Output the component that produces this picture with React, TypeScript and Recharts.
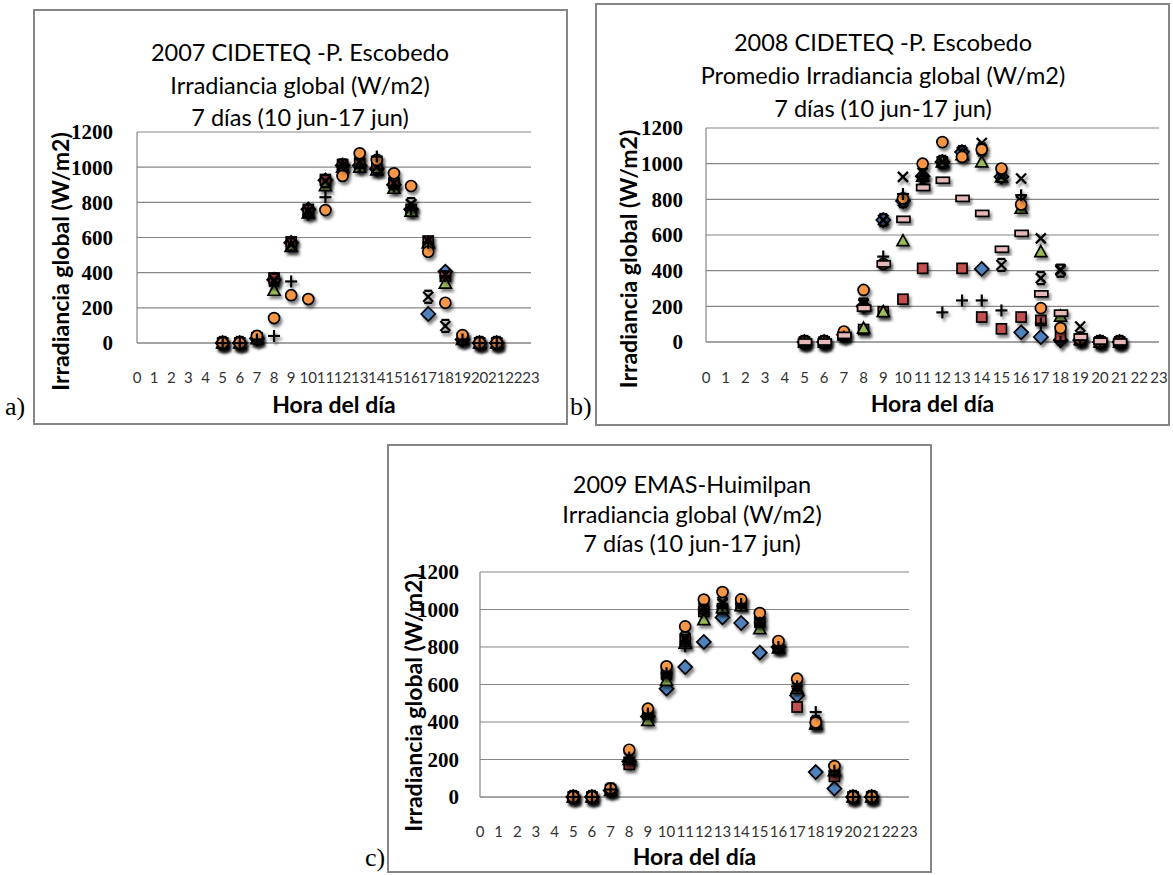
import React from "react";
import { ScatterChart, Scatter, XAxis, YAxis, CartesianGrid, Label } from "recharts";

// horas con dato (eje x) y etiquetas de los ejes
const horas = [5, 6, 7, 8, 9, 10, 11, 12, 13, 14, 15, 16, 17, 18, 19, 20, 21];
const ticksHora = [0, 1, 2, 3, 4, 5, 6, 7, 8, 9, 10, 11, 12, 13, 14, 15, 16, 17, 18, 19, 20, 21, 22, 23];
const ticksIrr = [0, 200, 400, 600, 800, 1000, 1200];

// a) 2007 CIDETEQ
const a_rombo = [0, 0, 25, 360, 570, 760, 925, 1010, 1010, 990, 900, 760, 165, 406, 20, 0, 0];
const a_cuadro = [0, 0, 30, 370, 575, 760, 930, 1015, 1020, 990, 910, 760, 580, 380, 25, 0, 0];
const a_triangulo = [0, 0, 25, 300, 550, 740, 895, 1000, 1000, 985, 880, 750, 570, 340, 20, 0, 0];
const a_equis = [0, 0, 30, 350, 560, 750, 920, 1010, 1030, 1000, 910, 790, 580, 390, 25, 0, 0];
const a_estrella = [0, 0, 30, 360, 560, 750, 920, 1010, 1030, 1000, 910, 790, 263, 97, 25, 0, 0];
const a_circulo = [0, 0, 40, 142, 272, 250, 756, 950, 1079, 1041, 965, 893, 519, 229, 45, 0, 0];
const a_cruz = [0, 0, 20, 40, 350, 730, 829, 1010, 1000, 1060, 890, 760, 570, 380, 20, 0, 0];

// b) 2008 CIDETEQ
const b_rombo = [0, 0, 40, 200, 684, 790, 930, 1010, 1065, 410, 926, 54, 28, 10, 10, 0, 0];
const b_cuadro = [0, 0, 40, 70, 170, 240, 413, 1010, 413, 140, 74, 140, 121, 34, 10, 0, 0];
const b_triangulo = [0, 0, 40, 78, 171, 568, 930, 1010, 1050, 1010, 926, 750, 507, 145, 15, 0, 0];
const b_equis = [0, 0, 40, 218, 684, 926, 898, 1010, 1065, 1116, 926, 917, 581, 408, 87, 0, 0];
const b_estrella = [0, 0, 40, 210, 684, 790, 950, 1010, 1065, 1080, 432, 790, 358, 400, 20, 0, 0];
const b_circulo = [0, 0, 59, 292, 438, 805, 1000, 1121, 1038, 1079, 973, 771, 190, 78, 15, 0, 0];
const b_cruz = [0, 0, 30, 200, 479, 830, 930, 166, 233, 233, 177, 823, 103, 0, 15, 0, 0];
const b_guion = [0, 0, 37, 190, 438, 688, 866, 907, 805, 721, 520, 609, 270, 162, 28, 5, 0];

// c) 2009 EMAS-Huimilpan
const c_rombo = [0, 0, 35, 190, 430, 578, 693, 827, 958, 928, 770, 800, 542, 133, 45, 0, 0];
const c_cuadro = [0, 0, 40, 174, 440, 660, 840, 990, 1005, 1030, 933, 800, 480, 390, 110, 0, 0];
const c_triangulo = [0, 0, 35, 200, 409, 622, 820, 946, 1010, 1020, 898, 795, 580, 390, 140, 0, 0];
const c_equis = [0, 0, 40, 210, 440, 650, 836, 1005, 1030, 1030, 930, 800, 586, 400, 150, 0, 0];
const c_estrella = [0, 0, 40, 215, 450, 670, 850, 1010, 1040, 1040, 940, 805, 600, 400, 150, 0, 0];
const c_circulo = [0, 0, 45, 252, 471, 697, 910, 1053, 1093, 1054, 981, 832, 631, 397, 165, 0, 0];
const c_cruz = [0, 0, 40, 210, 445, 660, 804, 1000, 1020, 1030, 930, 800, 590, 453, 140, 0, 0];

const marcas = [
  { tipo: "rombo", color: "#4F81BD" },
  { tipo: "cuadro", color: "#C0504D" },
  { tipo: "triangulo", color: "#9BBB59" },
  { tipo: "equis", color: "#8064A2" },
  { tipo: "estrella", color: "#4BACC6" },
  { tipo: "circulo", color: "#F79646" },
  { tipo: "cruz", color: "#000000" },
  { tipo: "guion", color: "#E6B9B8" },
];

const GRIS = "#868686";

function Marcador({ cx, cy, tipo, color }: any) {
  if (cx == null || cy == null) return null;
  const sombra = "url(#sombra)";
  switch (tipo) {
    case "rombo":
      return (
        <polygon
          points={`${cx},${cy - 7} ${cx + 7},${cy} ${cx},${cy + 7} ${cx - 7},${cy}`}
          fill={color} stroke="#000" strokeWidth={1.7} filter={sombra}
        />
      );
    case "cuadro":
      return <rect x={cx - 5} y={cy - 5} width={10} height={10} fill={color} stroke="#000" strokeWidth={1.7} filter={sombra} />;
    case "triangulo":
      return (
        <polygon
          points={`${cx},${cy - 6} ${cx + 6},${cy + 5} ${cx - 6},${cy + 5}`}
          fill={color} stroke="#000" strokeWidth={1.7} filter={sombra}
        />
      );
    case "equis":
      return (
        <g stroke="#000" strokeWidth={2.3} filter={sombra}>
          <line x1={cx - 5} y1={cy - 5} x2={cx + 5} y2={cy + 5} />
          <line x1={cx - 5} y1={cy + 5} x2={cx + 5} y2={cy - 5} />
        </g>
      );
    case "estrella":
      return (
        <g stroke="#000" strokeWidth={2.3} filter={sombra}>
          <line x1={cx - 5} y1={cy - 5} x2={cx + 5} y2={cy + 5} />
          <line x1={cx - 5} y1={cy + 5} x2={cx + 5} y2={cy - 5} />
          <line x1={cx - 4} y1={cy - 6} x2={cx + 4} y2={cy - 6} />
          <line x1={cx - 4} y1={cy + 6} x2={cx + 4} y2={cy + 6} />
        </g>
      );
    case "circulo":
      return <circle cx={cx} cy={cy} r={5.5} fill={color} stroke="#000" strokeWidth={1.7} filter={sombra} />;
    case "cruz":
      return (
        <g stroke="#000" strokeWidth={2.2} filter={sombra}>
          <line x1={cx - 6} y1={cy} x2={cx + 6} y2={cy} />
          <line x1={cx} y1={cy - 6} x2={cx} y2={cy + 6} />
        </g>
      );
    default:
      return <rect x={cx - 6} y={cy - 3} width={13} height={6} fill={color} stroke="#000" strokeWidth={1.7} filter={sombra} />;
  }
}

type Panel = {
  letra: string;
  letraPos: { left: number; top: number };
  titulo: string[];
  tituloPos: { centro: number; top: number; alto: number };
  series: number[][];
  caja: { left: number; top: number; width: number; height: number };
  margenDer: number;
  margenSup: number;
  anchoY: number;
  altoX: number;
  sepY: number;
  sepX: number;
  tituloYx: number;
  tituloYdy: number;
  tituloXoff: number;
};

const paneles: Panel[] = [
  {
    letra: "a)",
    letraPos: { left: 5, top: 392 },
    titulo: ["2007 CIDETEQ -P. Escobedo", "Irradiancia global (W/m2)", "7 días (10 jun-17 jun)"],
    tituloPos: { centro: 300, top: 36, alto: 32.5 },
    series: [a_rombo, a_cuadro, a_triangulo, a_equis, a_estrella, a_circulo, a_cruz],
    caja: { left: 33, top: 9, width: 535, height: 416 },
    margenDer: 37,
    margenSup: 123,
    anchoY: 104,
    altoX: 82,
    sepY: 24,
    sepX: 29,
    tituloYx: 27,
    tituloYdy: 24,
    tituloXoff: 12,
  },
  {
    letra: "b)",
    letraPos: { left: 570, top: 392 },
    titulo: ["2008 CIDETEQ -P. Escobedo", "Promedio Irradiancia global (W/m2)", "7 días (10 jun-17 jun)"],
    tituloPos: { centro: 883, top: 26, alto: 33 },
    series: [b_rombo, b_cuadro, b_triangulo, b_equis, b_estrella, b_circulo, b_cruz, b_guion],
    caja: { left: 595, top: 3, width: 575, height: 423 },
    margenDer: 11,
    margenSup: 125,
    anchoY: 111,
    altoX: 84,
    sepY: 23,
    sepX: 30,
    tituloYx: 33,
    tituloYdy: 24,
    tituloXoff: 14,
  },
  {
    letra: "c)",
    letraPos: { left: 365, top: 843 },
    titulo: ["2009 EMAS-Huimilpan", "Irradiancia global (W/m2)", "7 días (10 jun-17 jun)"],
    tituloPos: { centro: 692, top: 470, alto: 29.5 },
    series: [c_rombo, c_cuadro, c_triangulo, c_equis, c_estrella, c_circulo, c_cruz],
    caja: { left: 387, top: 444, width: 545, height: 429 },
    margenDer: 23,
    margenSup: 128,
    anchoY: 93,
    altoX: 76,
    sepY: 21,
    sepX: 29,
    tituloYx: 26,
    tituloYdy: 18,
    tituloXoff: 8,
  },
];

function Grafica({ p }: { p: Panel }) {
  const { caja } = p;
  return (
    <>
      <div
        style={{
          position: "absolute",
          left: caja.left,
          top: caja.top,
          width: caja.width,
          height: caja.height,
          border: `2px solid ${GRIS}`,
          boxSizing: "border-box",
        }}
      />
      <div style={{ position: "absolute", left: caja.left, top: caja.top }}>
        <ScatterChart
          width={caja.width}
          height={caja.height}
          margin={{ top: p.margenSup, right: p.margenDer, bottom: 0, left: 0 }}
        >
          <CartesianGrid vertical={false} stroke={GRIS} strokeWidth={1.2} />
          <XAxis
            type="number"
            dataKey="hora"
            domain={[0, 23]}
            ticks={ticksHora}
            interval={0}
            height={p.altoX}
            tickLine={false}
            tickSize={0}
            tickMargin={p.sepX}
            axisLine={{ stroke: GRIS, strokeWidth: 1.2 }}
            tick={{ fontFamily: "Lato", fontSize: 15, fill: "#333" }}
          >
            <Label
              value="Hora del día"
              position="insideBottom"
              offset={p.tituloXoff}
              fontFamily="Lato"
              fontWeight="bold"
              fontSize={23}
              fill="#000"
            />
          </XAxis>
          <YAxis
            type="number"
            dataKey="valor"
            domain={[0, 1200]}
            ticks={ticksIrr}
            interval={0}
            width={p.anchoY}
            tickLine={false}
            tickSize={0}
            tickMargin={p.sepY}
            axisLine={{ stroke: GRIS, strokeWidth: 1.2 }}
            tick={{ fontFamily: "Liberation Serif", fontWeight: "bold", fontSize: 21, fill: "#000" }}
          >
            <Label
              content={(props: any) => {
                const vb = props.viewBox || { x: 0, y: 0, height: 0 };
                const x = vb.x + p.tituloYx;
                const y = vb.y + vb.height / 2 + p.tituloYdy;
                return (
                  <text
                    x={x}
                    y={y}
                    transform={`rotate(-90 ${x} ${y})`}
                    textAnchor="middle"
                    dominantBaseline="central"
                    fontFamily="Lato"
                    fontWeight="bold"
                    fontSize={23}
                    fill="#000"
                  >
                    Irradiancia global (W/m2)
                  </text>
                );
              }}
            />
          </YAxis>
          {p.series.map((vals, k) => (
            <Scatter
              key={marcas[k].tipo}
              data={horas.map((h, i) => ({ hora: h, valor: vals[i] }))}
              isAnimationActive={false}
              shape={(props: any) => <Marcador {...props} tipo={marcas[k].tipo} color={marcas[k].color} />}
            />
          ))}
        </ScatterChart>
      </div>
      <div
        style={{
          position: "absolute",
          left: p.tituloPos.centro - 260,
          top: p.tituloPos.top,
          width: 520,
          textAlign: "center",
          fontFamily: "Lato",
          fontSize: 23.5,
          lineHeight: `${p.tituloPos.alto}px`,
          color: "#000",
        }}
      >
        {p.titulo.map((t) => (
          <div key={t}>{t}</div>
        ))}
      </div>
      <div
        style={{
          position: "absolute",
          left: p.letraPos.left,
          top: p.letraPos.top,
          fontFamily: "Liberation Serif",
          fontSize: 26,
          color: "#000",
        }}
      >
        {p.letra}
      </div>
    </>
  );
}

export default function App() {
  return (
    <div style={{ position: "absolute", left: 0, top: 0, width: 1173, height: 875, background: "#fff" }}>
      <svg width={0} height={0} style={{ position: "absolute" }}>
        <defs>
          <filter id="sombra" x="-60%" y="-60%" width="220%" height="220%">
            <feDropShadow dx="2" dy="3" stdDeviation="1.8" floodColor="#000" floodOpacity="0.5" />
          </filter>
        </defs>
      </svg>
      {paneles.map((p) => (
        <Grafica key={p.letra} p={p} />
      ))}
    </div>
  );
}
